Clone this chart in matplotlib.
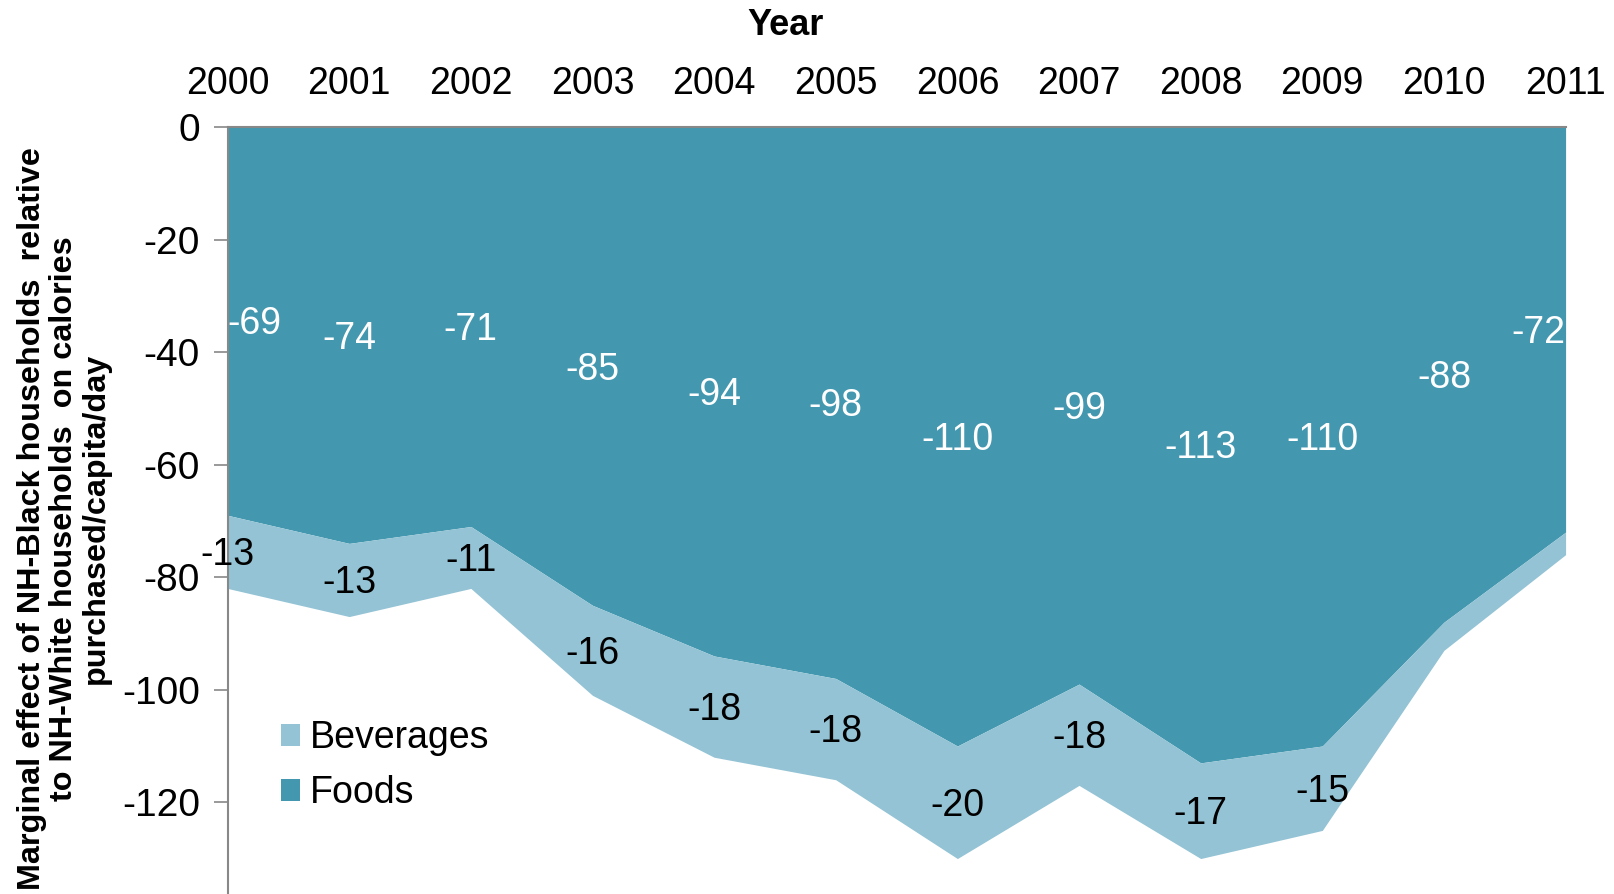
import matplotlib
matplotlib.use("Agg")
import matplotlib.pyplot as plt
import numpy as np

plt.rcParams["font.family"] = ["Liberation Sans", "DejaVu Sans"]
plt.rcParams["axes.unicode_minus"] = False

years = ["2000", "2001", "2002", "2003", "2004", "2005",
         "2006", "2007", "2008", "2009", "2010", "2011"]
foods = [-69, -74, -71, -85, -94, -98, -110, -99, -113, -110, -88, -72]
beverages = [-13, -13, -11, -16, -18, -18, -20, -18, -17, -15, -5, -4]
# labels shown for beverages in the original (last two left blank)
bev_labels = ["-13", "-13", "-11", "-16", "-18", "-18", "-20", "-18", "-17", "-15", None, None]

foods_color = "#4398b0"
bev_color = "#93c3d4"

fig = plt.figure(figsize=(16.14, 8.94), dpi=100)
ax = fig.add_axes([0.141, 0.0, 0.829, 0.858])

x = np.arange(len(years))
foods = np.array(foods)
total = foods + np.array(beverages)

ax.fill_between(x, 0, foods, color=foods_color, lw=0, label="Foods")
ax.fill_between(x, foods, total, color=bev_color, lw=0, label="Beverages")

# data labels in the middle of each band
for i in range(len(years)):
    ha = "center"
    if i == 0:
        ha = "left"
    elif i == len(years) - 1:
        ha = "right"
    ax.text(x[i], foods[i] / 2 - 0.6, str(foods[i]), color="white", fontsize=27,
            ha=ha, va="center")
    if bev_labels[i] is not None:
        ax.text(x[i], foods[i] + beverages[i] / 2 - 0.6, bev_labels[i], color="black",
                fontsize=27, ha="center", va="center")

ax.set_xlim(0, len(years) - 1)
ax.set_ylim(-136.3, 0)
ax.set_yticks(np.arange(-120, 1, 20))
ax.set_xticks(x)
ax.set_xticklabels(years)
ax.xaxis.tick_top()
ax.xaxis.set_label_position("top")
ax.set_xlabel("Year", fontsize=26, fontweight="bold")
ax.xaxis.set_label_coords(0.417, 1.132)
ax.xaxis.label.set_verticalalignment("center")
ax.tick_params(axis="x", length=0, pad=18, labelsize=27)
ax.tick_params(axis="y", length=10, width=1.2, color="#888888", pad=10, labelsize=28)

for side in ["right", "bottom"]:
    ax.spines[side].set_visible(False)
for side in ["left", "top"]:
    ax.spines[side].set_color("#888888")
    ax.spines[side].set_linewidth(1.5)

ax.set_ylabel("Marginal effect of NH-Black households  relative\n"
              "to NH-White households  on calories\n"
              "purchased/capita/day", fontsize=23.3, fontweight="bold",
              linespacing=1.1)
ax.yaxis.set_label_coords(-0.087, 0.49)

handles, labels = ax.get_legend_handles_labels()
ax.legend(handles[::-1], labels[::-1], loc="lower left", bbox_to_anchor=(0.015, 0.064),
          frameon=False, fontsize=27, handlelength=0.5, handleheight=0.5,
          handletextpad=0.25, labelspacing=0.5)

fig.savefig("out.png", dpi=100)
